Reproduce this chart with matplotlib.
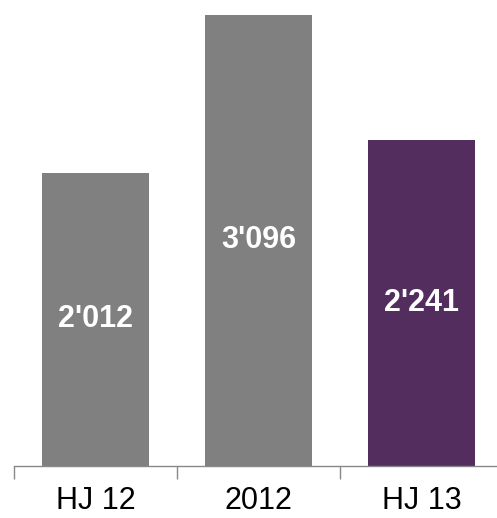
import matplotlib
matplotlib.use("Agg")
import matplotlib.pyplot as plt

periods = ["HJ 12", "2012", "HJ 13"]
values = [2012, 3096, 2241]
labels = ["2'012", "3'096", "2'241"]
bar_colors = ["#808080", "#808080", "#532d5e"]

plt.rcParams['font.family'] = ['Liberation Sans', 'DejaVu Sans']

fig = plt.figure(figsize=(4.97, 5.18), dpi=100)
ax = fig.add_axes([14 / 497, 52 / 518, 489 / 497, 466 / 518])

x = range(len(periods))
bars = ax.bar(x, values, width=0.655, color=bar_colors)

for b, txt in zip(bars, labels):
    ax.text(b.get_x() + b.get_width() / 2, b.get_height() / 2, txt,
            ha='center', va='center', color='white', fontsize=22, fontweight='bold')

ax.set_xlim(-0.5, 2.5)
ax.set_ylim(0, 3096 * 466 / 451)
ax.set_xticks([-0.5, 0.5, 1.5, 2.5])
ax.set_xticklabels([])
ax.set_xticks([0, 1, 2], minor=True)
ax.set_xticklabels(periods, minor=True, fontsize=22)
ax.tick_params(axis='x', which='major', length=9, width=1, color='#888888', direction='out')
ax.tick_params(axis='x', which='minor', length=0, pad=14.5)
ax.set_yticks([])

for side in ['top', 'right', 'left']:
    ax.spines[side].set_visible(False)
ax.spines['bottom'].set_color('#888888')
ax.spines['bottom'].set_linewidth(1)

fig.savefig("out.png", dpi=100)
